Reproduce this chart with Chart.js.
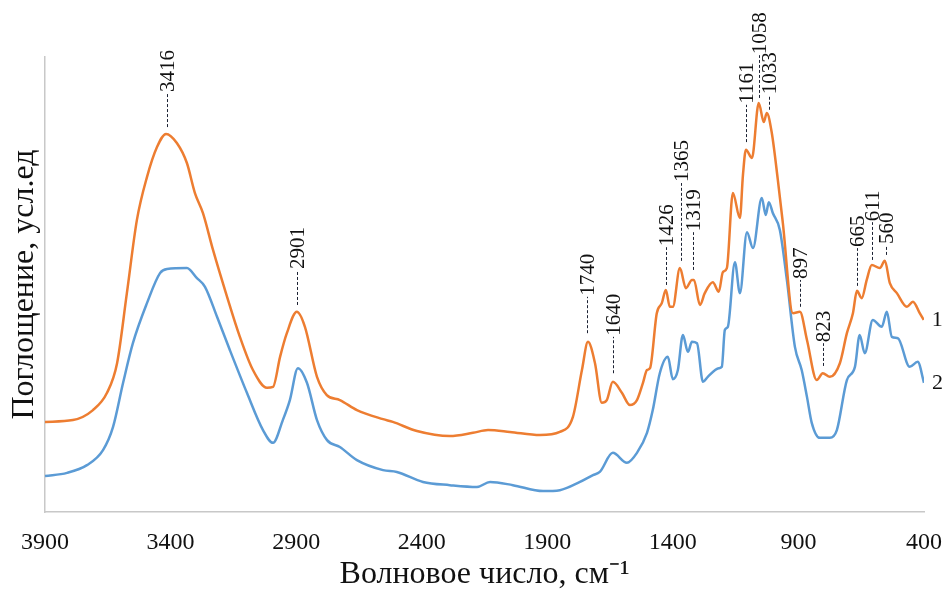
<!DOCTYPE html>
<html>
<head>
<meta charset="utf-8">
<script src="https://cdn.jsdelivr.net/npm/chart.js@4.4.0/dist/chart.umd.min.js"></script>
<style>
  body { margin: 0; background: #fff; }
  #wrap { width: 944px; height: 591px; position: relative; }
</style>
</head>
<body>
<div id="wrap"><canvas id="ir_chart"></canvas></div>
<script>
// spectrum 1 (orange)
var wave1 = [3900,3789,3709,3653,3613,3574,3534,3494,3454,3418,3375,3335,3303,3271,3231,3175,3124,3072,3016,2992,2964,2937,2897,2865,2817,2778,2726,2658,2554,2515,2419,2288,2196,2136,2049,1929,1850,1798,1762,1738,1710,1683,1663,1639,1603,1571,1543,1519,1503,1491,1464,1444,1428,1412,1400,1372,1348,1324,1316,1292,1273,1241,1217,1201,1185,1161,1133,1121,1109,1085,1058,1038,1026,1006,982,962,922,894,866,827,803,775,735,707,683,667,648,628,608,576,556,536,508,468,444,417,401];
var abs1 = [19.8,20.2,22.4,26.2,32.7,48.1,64.2,73.6,80.2,83.1,81.1,76.7,70.1,65.7,57.6,47.3,38.5,31.2,27.3,27.5,34.1,39.3,44.0,40.7,29.7,25.7,24.6,22.4,20.4,19.8,17.8,16.7,17.4,18.0,17.6,16.9,17.6,20.9,31.2,37.4,32.7,24.0,24.6,28.6,26.2,23.5,24.6,28.4,31.2,31.6,43.7,45.9,48.8,45.1,45.1,53.6,49.2,51.0,51.0,45.5,48.1,50.5,48.4,52.7,53.6,70.1,64.6,74.0,79.6,77.8,89.9,85.7,87.7,83.3,73.0,63.5,43.7,44.0,37.8,29.0,30.5,29.7,32.7,39.3,43.7,48.6,47.0,51.0,54.3,53.6,55.2,50.3,48.1,45.1,46.2,43.7,42.2];

// spectrum 2 (blue)
var wave2 = [3900,3812,3733,3669,3629,3589,3550,3494,3442,3414,3335,3295,3263,3215,3164,3096,3032,2992,2953,2925,2893,2857,2817,2777,2726,2658,2554,2499,2395,2288,2180,2128,2037,1917,1850,1770,1718,1691,1639,1583,1543,1503,1480,1452,1420,1400,1380,1360,1340,1324,1304,1280,1261,1217,1205,1193,1181,1153,1133,1105,1081,1046,1030,1018,1002,974,946,914,887,866,847,815,775,747,707,675,656,636,604,568,548,528,504,457,425,400];
var abs2 = [7.9,8.6,10.3,13.6,18.7,28.4,37.1,45.9,52.5,53.4,53.6,51.4,49.5,42.9,35.6,26.2,18.0,15.2,20.2,24.6,31.6,28.4,20.2,15.8,14.3,11.4,9.2,8.8,6.6,5.9,5.5,6.6,5.9,4.6,4.8,6.6,8.1,8.8,13.0,10.8,13.0,17.4,22.4,30.5,34.1,29.2,31.2,38.9,35.2,37.4,37.1,28.6,29.7,31.6,31.9,40.0,40.7,54.9,48.1,61.5,58.0,69.0,65.3,68.1,65.7,62.0,51.0,36.3,31.2,25.3,19.6,16.3,16.3,18.0,29.0,31.9,38.9,34.9,42.2,40.7,44.0,38.5,38.2,31.9,33.0,28.4];

var seriesNames = ["1", "2"];
var xTicks = [3900, 3400, 2900, 2400, 1900, 1400, 900, 400];

// peak marks: label, where the leader sits, leader from / to (absorbance units)
var peakLabels = ["3416","2901","1740","1640","1426","1365","1319","1161","1058","1033","897","823","665","611","560"];
var peakPos  = [3416, 2897, 1740, 1640, 1426, 1368, 1318, 1110, 1058, 1016, 894, 803, 667, 608, 552];
var peakFrom = [84.6, 45.5, 39.3, 30.5, 49.9, 55.2, 53.2, 81.3, 91.0, 88.4, 45.1, 32.1, 49.7, 55.4, 56.5];
var peakTo   = [92.1, 53.2, 47.3, 38.5, 58.2, 72.3, 61.5, 89.5, 100.4, 91.6, 51.0, 37.1, 58.0, 63.7, 58.7];

var serif = "'Liberation Serif', 'Times New Roman', serif";

function toPoints(xs, ys) {
  return xs.map(function(v, i){ return {x: v, y: ys[i]}; });
}

var peakPlugin = {
  id: 'peaks',
  afterDatasetsDraw: function(chart) {
    var ctx = chart.ctx, x = chart.scales.x, y = chart.scales.y;
    ctx.save();
    ctx.strokeStyle = '#1c2233';
    ctx.fillStyle = '#111';
    ctx.lineWidth = 1;
    ctx.font = "21px " + serif;
    for (var i = 0; i < peakLabels.length; i++) {
      var px = Math.round(x.getPixelForValue(peakPos[i])) + 0.5;
      var y0 = y.getPixelForValue(peakFrom[i]);
      var y1 = y.getPixelForValue(peakTo[i]);
      ctx.setLineDash([3, 2]);
      ctx.beginPath(); ctx.moveTo(px, y0); ctx.lineTo(px, y1); ctx.stroke();
      ctx.save();
      ctx.translate(px + 1, y1 - 1);
      ctx.rotate(-Math.PI / 2);
      ctx.textAlign = 'left';
      ctx.textBaseline = 'middle';
      ctx.fillText(peakLabels[i], 0, 0);
      ctx.restore();
    }
    // series numbers at the line ends
    ctx.font = "22px " + serif;
    ctx.textAlign = 'left';
    ctx.textBaseline = 'middle';
    chart.data.datasets.forEach(function(ds, k) {
      var meta = chart.getDatasetMeta(k);
      var last = meta.data[meta.data.length - 1];
      ctx.fillText(seriesNames[k], last.x + 8, last.y);
    });
    ctx.restore();
  }
};

new Chart("ir_chart", {
  type: "line",
  data: {
    datasets: [{
      label: seriesNames[0],
      data: toPoints(wave1, abs1),
      borderColor: "#ED7D31",
      borderWidth: 2.5,
      pointRadius: 0,
      cubicInterpolationMode: 'monotone'
    }, {
      label: seriesNames[1],
      data: toPoints(wave2, abs2),
      borderColor: "#5B9BD5",
      borderWidth: 2.5,
      pointRadius: 0,
      cubicInterpolationMode: 'monotone'
    }]
  },
  options: {
    responsive: true,
    maintainAspectRatio: false,
    animation: false,
    layout: { padding: { top: 57, right: 20, left: 0, bottom: 0 } },
    plugins: { legend: { display: false }, tooltip: { enabled: false } },
    scales: {
      x: {
        type: 'linear',
        reverse: true,
        min: 400,
        max: 3900,
        afterBuildTicks: function(scale) {
          scale.ticks = xTicks.map(function(v){ return {value: v}; });
        },
        afterFit: function(scale) {
          scale.height = 79;
          scale.paddingLeft = 0;
          scale.paddingRight = 0;
        },
        grid: { display: false, drawTicks: false },
        border: { display: true, color: '#c8c8c8', width: 1.5 },
        ticks: {
          color: '#111', padding: 16, maxRotation: 0,
          font: { family: serif, size: 24 },
          callback: function(v) { return String(v); }
        },
        title: {
          display: true,
          text: "Волновое число, см⁻¹",
          color: '#111',
          padding: { top: 0, bottom: 0 },
          font: { family: serif, size: 32, lineHeight: 1 }
        }
      },
      y: {
        min: 0,
        max: 100,
        afterFit: function(scale) { scale.width = 45; },
        grid: { display: false, drawTicks: false },
        border: { display: true, color: '#c8c8c8', width: 1.5 },
        ticks: { display: false },
        title: {
          display: true,
          text: "Поглощение, усл.ед",
          color: '#111',
          padding: { top: 9, bottom: 0 },
          font: { family: serif, size: 32, lineHeight: 1 }
        }
      }
    }
  },
  plugins: [peakPlugin]
});
</script>
</body>
</html>
